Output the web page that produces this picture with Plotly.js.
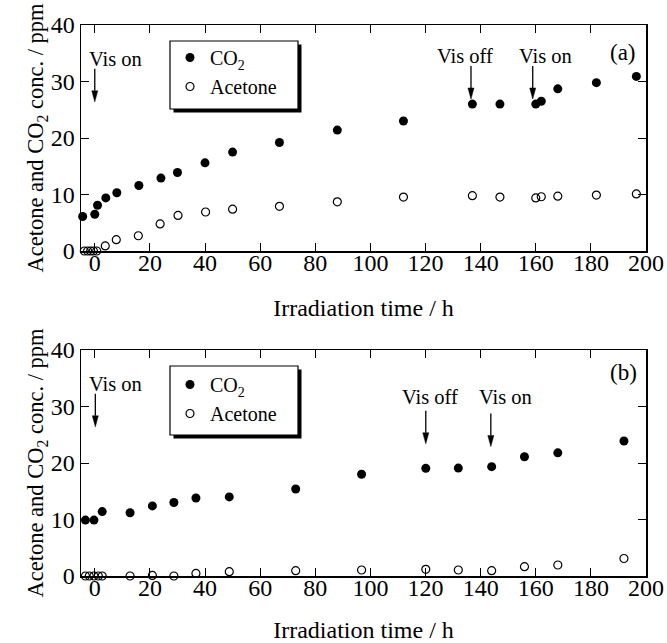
<!DOCTYPE html>
<html>
<head>
<meta charset="utf-8">
<script src="https://cdn.plot.ly/plotly-3.0.1.min.js"></script>
<style>
  html, body { margin: 0; padding: 0; background: #ffffff; }
  #plot { width: 667px; height: 643px; }
</style>
</head>
<body>
<div id="plot"></div>
<script>
// ---- data ----
// Panel (a)
const timeA_CO2 = [-4.4, 0, 1, 4, 8, 16, 24, 30, 40, 50, 67, 88, 112, 137, 147, 160, 162, 168, 182, 196.5];
const concA_CO2 = [6.1, 6.5, 8.1, 9.4, 10.3, 11.6, 12.9, 13.9, 15.6, 17.5, 19.2, 21.4, 23.0, 26.0, 26.0, 26.0, 26.5, 28.7, 29.8, 30.9];
const timeA_Ace = [-3.8, -2.6, -1.5, -0.5, 0.7, 3.8, 7.8, 15.8, 23.7, 30.2, 40.2, 50, 67, 88, 112, 137, 147, 160, 162, 168, 182, 196.5];
const concA_Ace = [0, 0, 0, 0, 0, 0.9, 2.0, 2.7, 4.8, 6.3, 6.9, 7.4, 7.9, 8.7, 9.55, 9.8, 9.55, 9.4, 9.6, 9.7, 9.9, 10.1];
// Panel (b)
const timeB_CO2 = [-3.4, -0.3, 2.7, 12.8, 20.9, 28.7, 36.7, 48.8, 72.9, 96.8, 120.1, 131.9, 144, 155.9, 168, 192];
const concB_CO2 = [9.9, 9.9, 11.4, 11.2, 12.4, 13.0, 13.8, 14.0, 15.4, 18.0, 19.05, 19.1, 19.35, 21.1, 21.8, 23.9];
const timeB_Ace = [-3.4, -2, -0.3, 1.3, 2.7, 12.8, 20.9, 28.7, 36.7, 48.8, 72.9, 96.8, 120.1, 131.9, 144, 155.9, 168, 192];
const concB_Ace = [0, 0, 0, 0, 0, 0, 0.1, 0, 0.45, 0.77, 0.95, 1.06, 1.18, 1.06, 0.95, 1.65, 1.95, 3.1];

const seriesNames = ['CO<sub>2</sub>', 'Acetone'];
const xTitle = 'Irradiation time / h';
const yTitle = 'Acetone and CO<sub>2</sub> conc. / ppm';
const panelLabels = ['(a)', '(b)'];

// Events: time of arrow, conc at arrow tip, label, label time, label conc
const eventTimeA  = [0, 136.5, 158.9];
const eventTipA   = [26.4, 26.9, 26.9];
const eventLabelA = ['Vis on', 'Vis off', 'Vis on'];
const labelTimeA  = [7.5, 134.3, 163.4];
const labelConcA  = [34.0, 34.6, 34.6];

const eventTimeB  = [0.2, 120.1, 143.7];
const eventTipB   = [26.4, 23.4, 22.9];
const eventLabelB = ['Vis on', 'Vis off', 'Vis on'];
const labelTimeB  = [7.5, 121.8, 149.1];
const labelConcB  = [34.0, 31.6, 31.6];

// ---- styling / layout constants ----
const FONT = 'Liberation Serif, Times New Roman, Times, serif';
const W = 667, H = 643;
const M = {l: 81, r: 21, t: 25, b: 67};
const plotW = W - M.l - M.r, plotH = H - M.t - M.b;
const panelPx = 226;
const panelFrac = panelPx / plotH;
const XR = [-5, 200], YR = [0, 40];
const xUnitPerPx = (XR[1] - XR[0]) / plotW;
const yUnitPerPx = (YR[1] - YR[0]) / panelPx;

function trace(x, y, name, filled, xa, ya, leg) {
  return {
    type: 'scatter', mode: 'markers', x: x, y: y, name: name,
    xaxis: xa, yaxis: ya, legend: leg, cliponaxis: false,
    marker: filled
      ? {symbol: 'circle', size: 9, color: '#000', line: {width: 0}}
      : {symbol: 'circle-open', size: 8, color: '#000', line: {width: 1.2, color: '#000'}}
  };
}

const data = [
  trace(timeA_CO2, concA_CO2, seriesNames[0], true,  'x',  'y',  'legend'),
  trace(timeA_Ace, concA_Ace, seriesNames[1], false, 'x',  'y',  'legend'),
  trace(timeB_CO2, concB_CO2, seriesNames[0], true,  'x2', 'y2', 'legend2'),
  trace(timeB_Ace, concB_Ace, seriesNames[1], false, 'x2', 'y2', 'legend2')
];

function xaxis(anchor) {
  return {
    anchor: anchor, domain: [0, 1], range: XR, dtick: 20, tick0: 0,
    ticks: 'inside', ticklen: 8, tickwidth: 1, tickcolor: '#000',
    showline: true, linecolor: '#000', linewidth: 1.5, mirror: 'ticks',
    showgrid: false, zeroline: false,
    tickfont: {family: FONT, size: 24, color: '#000'},
    ticklabelstandoff: -10,
    title: {text: xTitle, font: {family: FONT, size: 24, color: '#000'}, standoff: 24},
    automargin: false
  };
}
function yaxis(anchor, domain) {
  return {
    anchor: anchor, domain: domain, range: YR, dtick: 10, tick0: 0,
    ticks: 'inside', ticklen: 8, tickwidth: 1, tickcolor: '#000',
    showline: true, linecolor: '#000', linewidth: 1.5, mirror: 'ticks',
    showgrid: false, zeroline: false,
    tickfont: {family: FONT, size: 24, color: '#000'},
    title: {text: yTitle, font: {family: FONT, size: 22.5, color: '#000'}, standoff: 0},
    automargin: false
  };
}

const annotations = [];
const shapes = [];

// legend boxes with drop shadow (pixel boxes -> paper coords)
function pxBox(x0, y0, x1, y1, fill, lineW) {
  return {
    type: 'rect', xref: 'paper', yref: 'paper', layer: 'below',
    x0: (x0 - M.l) / plotW, x1: (x1 - M.l) / plotW,
    y0: (H - M.b - y1) / plotH, y1: (H - M.b - y0) / plotH,
    fillcolor: fill, line: lineW ? {width: lineW, color: '#000'} : {width: 0}
  };
}
[[170, 41, 298, 109], [170, 366, 298, 435]].forEach(b => {
  shapes.push(pxBox(b[0] + 3.5, b[1] + 3.5, b[2] + 3.5, b[3] + 3.5, '#000', 0));
  shapes.push(pxBox(b[0], b[1], b[2], b[3], '#fff', 1.2));
});

// event arrows and labels
const ARROW_LEN = 33, HEAD_LEN = 11, HEAD_HALF = 3;
function addEvents(times, tips, labels, lt, lc, xa, ya) {
  times.forEach((t, i) => {
    const tip = tips[i];
    const base = tip + HEAD_LEN * yUnitPerPx;
    const tail = tip + ARROW_LEN * yUnitPerPx;
    const hw = HEAD_HALF * xUnitPerPx;
    shapes.push({type: 'line', xref: xa, yref: ya, x0: t, x1: t, y0: tail, y1: base,
      line: {color: '#000', width: 1.3}});
    shapes.push({type: 'path', xref: xa, yref: ya,
      path: `M${t - hw},${base} L${t + hw},${base} L${t},${tip} Z`,
      fillcolor: '#000', line: {color: '#000', width: 0.5}});
    annotations.push({
      xref: xa, yref: ya, x: lt[i], y: lc[i], text: labels[i], showarrow: false,
      xanchor: 'center', yanchor: 'middle',
      font: {family: FONT, size: 20.5, color: '#000'}
    });
  });
}
addEvents(eventTimeA, eventTipA, eventLabelA, labelTimeA, labelConcA, 'x', 'y');
addEvents(eventTimeB, eventTipB, eventLabelB, labelTimeB, labelConcB, 'x2', 'y2');

annotations.push({xref: 'x', yref: 'y', x: 191.7, y: 35.2, text: panelLabels[0], showarrow: false,
  xanchor: 'center', yanchor: 'middle', font: {family: FONT, size: 23, color: '#000'}});
annotations.push({xref: 'x2', yref: 'y2', x: 191.7, y: 36.1, text: panelLabels[1], showarrow: false,
  xanchor: 'center', yanchor: 'middle', font: {family: FONT, size: 23, color: '#000'}});

function legendCfg(topPx) {
  return {
    x: (170 - M.l) / plotW, y: (H - M.b - topPx) / plotH, xanchor: 'left', yanchor: 'top',
    xref: 'paper', yref: 'paper',
    bgcolor: 'rgba(0,0,0,0)', borderwidth: 0,
    font: {family: FONT, size: 20, color: '#000'},
    tracegroupgap: 0, itemclick: false, itemdoubleclick: false
  };
}

const layout = {
  width: W, height: H, margin: M,
  paper_bgcolor: '#fff', plot_bgcolor: 'rgba(0,0,0,0)',
  font: {family: FONT, color: '#000'},
  showlegend: true,
  xaxis: xaxis('y'), yaxis: yaxis('x', [1 - panelFrac, 1]),
  xaxis2: xaxis('y2'), yaxis2: yaxis('x2', [0, panelFrac]),
  legend: legendCfg(38),
  legend2: legendCfg(365),
  annotations: annotations,
  shapes: shapes
};

Plotly.newPlot('plot', data, layout, {staticPlot: true, displayModeBar: false});
</script>
</body>
</html>
